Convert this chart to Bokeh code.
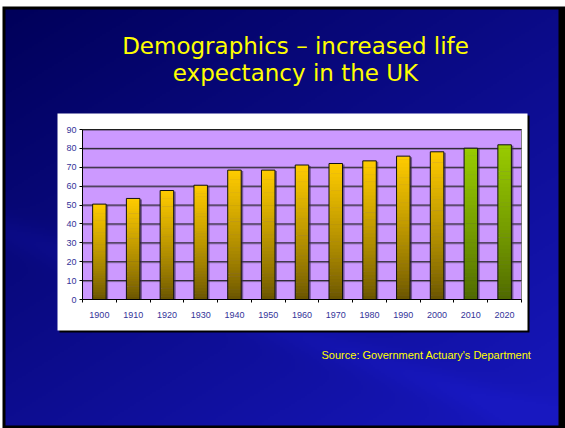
import numpy as np
from bokeh.plotting import figure
from bokeh.models import Range1d, FixedTicker, ColumnDataSource
from bokeh.core.properties import value
from bokeh.embed import file_html
from bokeh.resources import INLINE

# ---------------- data ----------------
years = ["1900", "1910", "1920", "1930", "1940", "1950", "1960",
         "1970", "1980", "1990", "2000", "2010", "2020"]
life_expectancy = [50.5, 53.5, 57.7, 60.5, 68.5, 68.5, 71.2,
                   72.0, 73.4, 75.9, 78.2, 80.1, 81.9]
series_kind = ["actual"] * 11 + ["projected"] * 2
y_ticks = [0, 10, 20, 30, 40, 50, 60, 70, 80, 90]
title_lines = ["Demographics \u2013 increased life", "expectancy in the UK"]
source_note = "Source: Government Actuary's Department"

# ---------------- layout geometry (page pixels) ----------------
PAGE_W, PAGE_H = 565, 428
PLOT_L, PLOT_R, PLOT_T, PLOT_B = 82, 521, 129, 299
n = len(years)
y_max = y_ticks[-1]
SX = (PLOT_R - PLOT_L) / n
SY = (PLOT_B - PLOT_T) / y_max


def dx(px):
    return (px - PLOT_L) / SX


def dy(py):
    return (PLOT_B - py) / SY


p = figure(width=PAGE_W, height=PAGE_H,
           x_range=Range1d(dx(0), dx(PAGE_W)), y_range=Range1d(dy(PAGE_H), dy(0)),
           toolbar_location=None, output_backend="svg", min_border=0,
           outline_line_color=None, background_fill_color="white",
           border_fill_color="white")
p.xgrid.visible = False
p.ygrid.visible = False

# ---------------- slide background ----------------
p.quad(left=[dx(2)], right=[dx(PAGE_W)], bottom=[dy(PAGE_H)], top=[dy(6)],
       fill_color="black", line_color=None)

BX0, BX1, BY0, BY1 = 5, 558, 9, 425
H, W = 208, 276
xs = BX0 + (np.arange(W) + 0.5) * (BX1 - BX0) / W
ys_page = BY1 - (np.arange(H) + 0.5) * (BY1 - BY0) / H
XX, YY = np.meshgrid(xs, ys_page)
t = np.clip(0.45 * XX / PAGE_W + 0.55 * YY / PAGE_H, 0, 1)
# faint diagonal light streak towards lower right
streak = np.exp(-((YY - (0.35 * XX + 230)) / 18.0) ** 2) * 0.12
t = np.clip(t + streak, 0, 1)
dark = np.array([0x00, 0x00, 0x58], dtype=float)
light = np.array([0x18, 0x18, 0xC0], dtype=float)
img = np.empty((H, W), dtype=np.uint32)
view = img.view(dtype=np.uint8).reshape((H, W, 4))
for c in range(3):
    view[..., c] = (dark[c] + t * (light[c] - dark[c])).astype(np.uint8)
view[..., 3] = 255
p.image_rgba(image=[img], x=dx(BX0), y=dy(BY1),
             dw=dx(BX1) - dx(BX0), dh=dy(BY0) - dy(BY1))

# ---------------- chart box ----------------
p.quad(left=[dx(59)], right=[dx(529)], bottom=[dy(332)], top=[dy(115)],
       fill_color="black", line_color=None)
p.quad(left=[dx(57)], right=[dx(527)], bottom=[dy(330)], top=[dy(113)],
       fill_color="white", line_color=None)

# plot area
p.quad(left=[0], right=[n], bottom=[0], top=[y_max],
       fill_color="#CC99FF", line_color="#808080", line_width=1)

# grid lines (with faint shadow)
gy = y_ticks[1:]
p.segment(x0=[0] * len(gy), x1=[n] * len(gy), y0=[g - 1 / SY for g in gy],
          y1=[g - 1 / SY for g in gy], line_color="#8a6aaa", line_width=1)
p.segment(x0=[0] * len(gy), x1=[n] * len(gy), y0=gy, y1=gy,
          line_color="#1e1e1e", line_width=1)

# ---------------- axes ----------------
centers = [i + 0.5 for i in range(n)]

p.yaxis.fixed_location = 0
p.yaxis.bounds = (0, y_max)
p.yaxis.ticker = FixedTicker(ticks=y_ticks)
p.yaxis.major_tick_out = 3
p.yaxis.major_tick_in = 0
p.yaxis.minor_tick_line_color = None
p.yaxis.major_label_standoff = 3
p.yaxis.axis_line_color = "black"
p.yaxis.major_tick_line_color = "black"
p.yaxis.major_label_text_font = "Liberation Sans"
p.yaxis.major_label_text_font_size = "9px"
p.yaxis.major_label_text_color = "#333399"

p.xaxis.fixed_location = 0
p.xaxis.bounds = (0, n)
p.xaxis.ticker = FixedTicker(ticks=centers, minor_ticks=list(range(n + 1)))
p.xaxis.major_label_overrides = {c: y for c, y in zip(centers, years)}
p.xaxis.major_tick_line_color = None
p.xaxis.major_tick_out = 0
p.xaxis.major_tick_in = 0
p.xaxis.minor_tick_line_color = "black"
p.xaxis.minor_tick_out = 3
p.xaxis.minor_tick_in = 0
p.xaxis.major_label_standoff = 9
p.xaxis.axis_line_color = "black"
p.xaxis.major_label_text_font = "Liberation Sans"
p.xaxis.major_label_text_font_size = "9px"
p.xaxis.major_label_text_color = "#333399"

# ---------------- bars (vertical gradient) ----------------
palettes = {"actual": ((0x66, 0x52, 0x00), (0xFF, 0xCC, 0x00)),
            "projected": ((0x4D, 0x66, 0x00), (0x99, 0xCC, 0x00))}
BW = 0.4
NS = 40
sl = dict(left=[], right=[], bottom=[], top=[], color=[])
for cx, v, kind in zip(centers, life_expectancy, series_kind):
    lo, hi = palettes[kind]
    for k in range(NS):
        b = v * k / NS
        tp = min(v, v * (k + 1) / NS + 0.25)
        f = ((k + 0.5) / NS) ** 0.8
        col = tuple(int(lo[j] + (hi[j] - lo[j]) * f) for j in range(3))
        sl["left"].append(cx - BW / 2)
        sl["right"].append(cx + BW / 2)
        sl["bottom"].append(b)
        sl["top"].append(tp)
        sl["color"].append("#%02x%02x%02x" % col)

bars = ColumnDataSource(dict(left=[c - BW / 2 for c in centers],
                             right=[c + BW / 2 for c in centers],
                             top=life_expectancy,
                             sleft=[c - BW / 2 + 2 / SX for c in centers],
                             sright=[c + BW / 2 + 2 / SX for c in centers],
                             stop=[v - 1 / SY for v in life_expectancy]))

p.quad(left="sleft", right="sright", bottom=0, top="stop", source=bars,
       fill_color="#3a2a50", fill_alpha=0.6, line_color=None)
p.quad(left="left", right="right", bottom="bottom", top="top",
       source=ColumnDataSource(sl), fill_color="color", line_color=None)
p.quad(left="left", right="right", bottom=0, top="top", source=bars,
       fill_color=None, line_color="#111111", line_width=1)

# ---------------- texts ----------------
p.text(x=[dx(295), dx(295)], y=[dy(45.3), dy(72.7)], text=title_lines,
       text_font=value("DejaVu Sans"), text_font_size="23px",
       text_color="#FFFF00", text_align="center", text_baseline="alphabetic")
p.text(x=[dx(531)], y=[dy(354.3)], text=[source_note],
       text_font=value("Liberation Sans"), text_font_size="11px",
       text_color="#FFFF00", text_align="right", text_baseline="alphabetic")

open("out.html", "w").write(file_html(p, INLINE))
